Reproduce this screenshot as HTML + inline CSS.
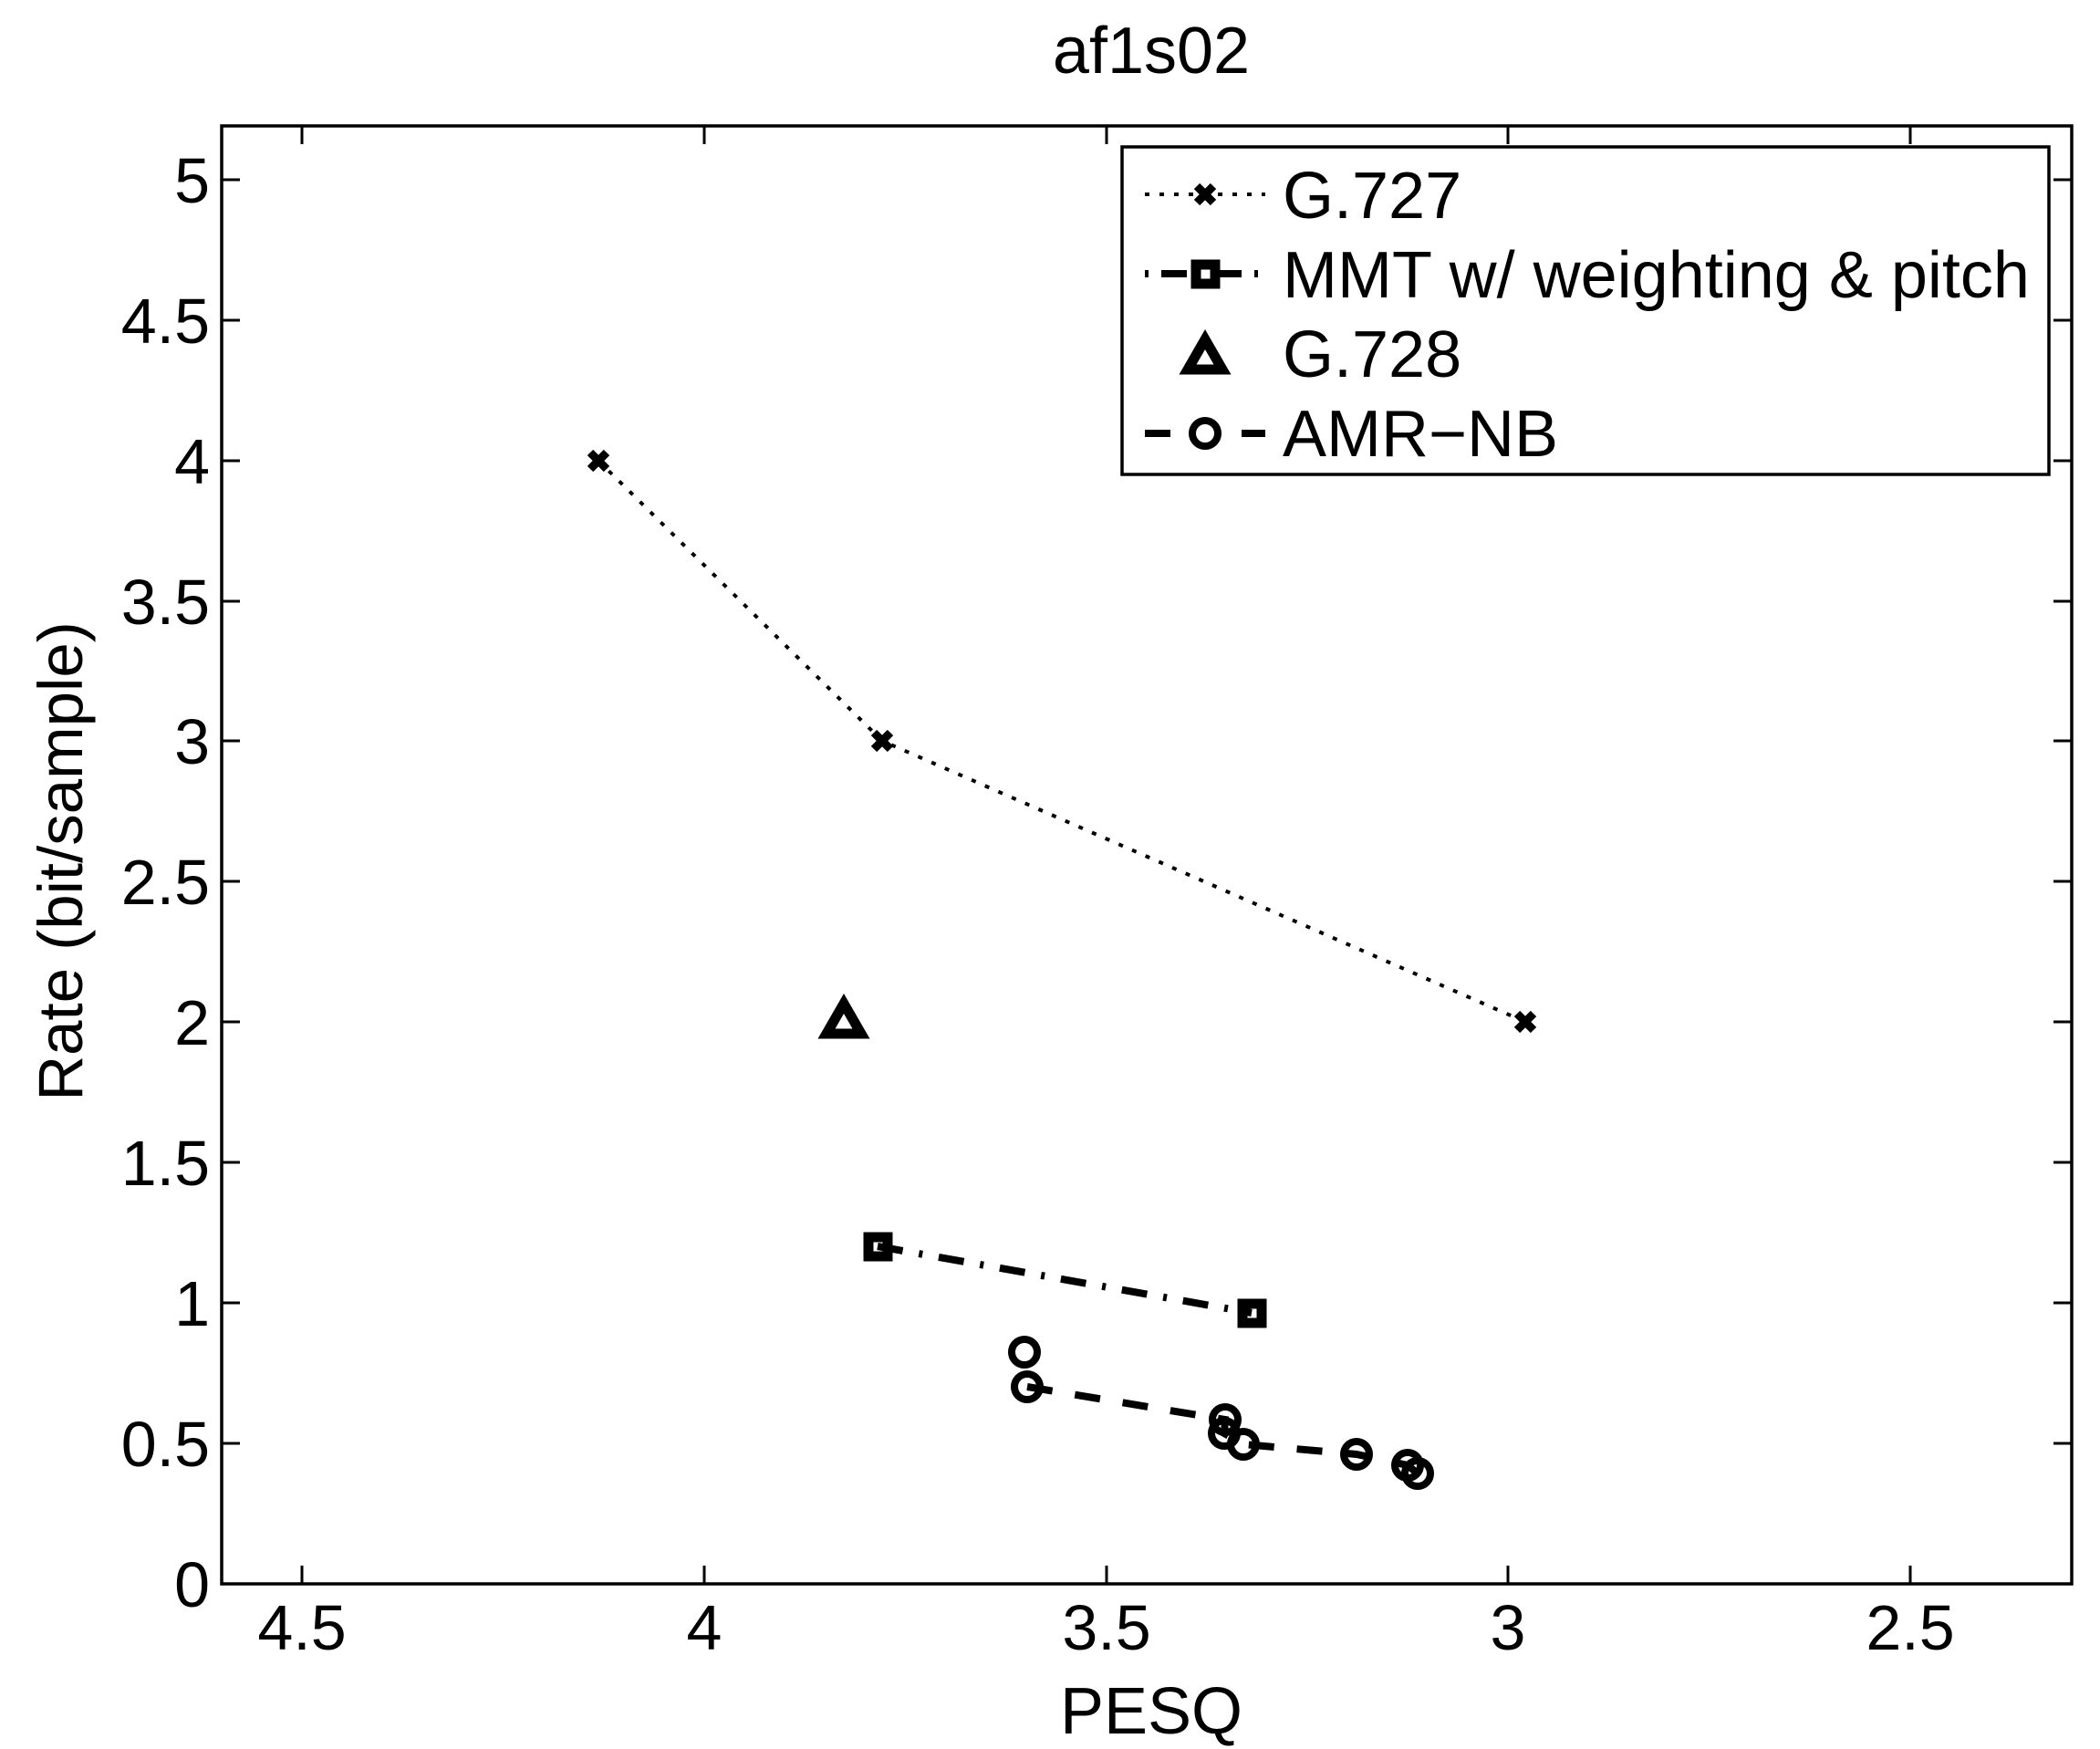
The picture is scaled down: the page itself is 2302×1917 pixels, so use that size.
<!DOCTYPE html>
<html><head><style>body{margin:0;background:#fff}svg{display:block}text{font-family:"Liberation Sans",sans-serif;fill:#000}</style></head>
<body>
<svg width="2302" height="1917" viewBox="0 0 2302 1917" xmlns="http://www.w3.org/2000/svg">
<rect width="2302" height="1917" fill="#fff"/>
<text x="1262" y="80" font-size="72" text-anchor="middle">af1s02</text>
<g stroke="#000" stroke-width="3.5" fill="none">
<rect x="243" y="138" width="2028" height="1598"/>
</g>
<g stroke="#000" stroke-width="3">
<path d="M331 1736v-20M772 1736v-20M1213 1736v-20M1653 1736v-20M2094 1736v-20"/>
<path d="M331 138v20M772 138v20M1213 138v20M1653 138v20M2094 138v20"/>
<path d="M243 1736h20M243 1582h20M243 1428h20M243 1274h20M243 1120h20M243 966h20M243 812h20M243 659h20M243 505h20M243 351h20M243 197h20"/>
<path d="M2271 1736h-20M2271 1582h-20M2271 1428h-20M2271 1274h-20M2271 1120h-20M2271 966h-20M2271 812h-20M2271 659h-20M2271 505h-20M2271 351h-20M2271 197h-20"/>
</g>
<g font-size="70" text-anchor="end">
<text x="230" y="1761">0</text><text x="230" y="1607">0.5</text><text x="230" y="1453">1</text><text x="230" y="1299">1.5</text><text x="230" y="1145">2</text><text x="230" y="991">2.5</text><text x="230" y="837">3</text><text x="230" y="684">3.5</text><text x="230" y="530">4</text><text x="230" y="376">4.5</text><text x="230" y="222">5</text>
</g>
<g font-size="70" text-anchor="middle">
<text x="331" y="1808">4.5</text><text x="772" y="1808">4</text><text x="1213" y="1808">3.5</text><text x="1653" y="1808">3</text><text x="2094" y="1808">2.5</text>
<text x="1262" y="1900" font-size="72">PESQ</text>
</g>
<text x="0" y="0" font-size="69" text-anchor="middle" transform="translate(90,944) rotate(-90)">Rate (bit/sample)</text>

<!-- G.727 -->
<polyline points="656,505 967,812 1672,1120" fill="none" stroke="#000" stroke-width="4" stroke-dasharray="5,11"/>
<g stroke="#000" stroke-width="9">
<path d="M647 496l18 18M665 496l-18 18"/>
<path d="M958 803l18 18M976 803l-18 18"/>
<path d="M1663 1111l18 18M1681 1111l-18 18"/>
</g>
<!-- G.728 -->
<polygon points="925,1100 906,1133 944,1133" fill="none" stroke="#000" stroke-width="11" stroke-linejoin="miter"/>
<!-- MMT -->
<polyline points="962,1366 1372,1439" fill="none" stroke="#000" stroke-width="8" stroke-dasharray="28,18,4,18"/>
<g fill="none" stroke="#000" stroke-width="11">
<rect x="952" y="1356" width="21" height="21"/><rect x="1362" y="1429" width="21" height="21"/>
</g>
<!-- AMR -->
<polyline points="1126,1520 1343,1556 1342,1571 1363,1583 1487,1594 1543,1606 1554,1615" fill="none" stroke="#000" stroke-width="8" stroke-dasharray="28,25"/>
<g fill="none" stroke="#000" stroke-width="8">
<circle cx="1123" cy="1482" r="14"/><circle cx="1126" cy="1520" r="14"/><circle cx="1343" cy="1556" r="14"/><circle cx="1342" cy="1571" r="14"/><circle cx="1363" cy="1583" r="14"/><circle cx="1487" cy="1594" r="14"/><circle cx="1543" cy="1606" r="14"/><circle cx="1554" cy="1615" r="14"/>
</g>

<!-- legend -->
<rect x="1230" y="161" width="1016" height="359" fill="#fff" stroke="#000" stroke-width="3.5"/>
<g font-size="72">
<text x="1406" y="239">G.727</text>
<text x="1406" y="326">MMT w/ weighting &amp; pitch</text>
<text x="1406" y="413">G.728</text>
<text x="1406" y="500">AMR−NB</text>
</g>
<line x1="1255" y1="213" x2="1387" y2="213" stroke="#000" stroke-width="4" stroke-dasharray="5,11"/>
<path d="M1312 204l18 18M1330 204l-18 18" stroke="#000" stroke-width="9"/>
<line x1="1255" y1="300" x2="1387" y2="300" stroke="#000" stroke-width="8" stroke-dasharray="4,14,28,14"/>
<rect x="1311" y="290" width="21" height="21" fill="#fff" stroke="#000" stroke-width="11"/>
<polygon points="1321,372 1302,405 1340,405" fill="none" stroke="#000" stroke-width="11"/>
<line x1="1255" y1="475" x2="1387" y2="475" stroke="#000" stroke-width="8" stroke-dasharray="28,25"/>
<circle cx="1321" cy="475" r="14" fill="#fff" stroke="#000" stroke-width="8"/>
</svg>
</body></html>
